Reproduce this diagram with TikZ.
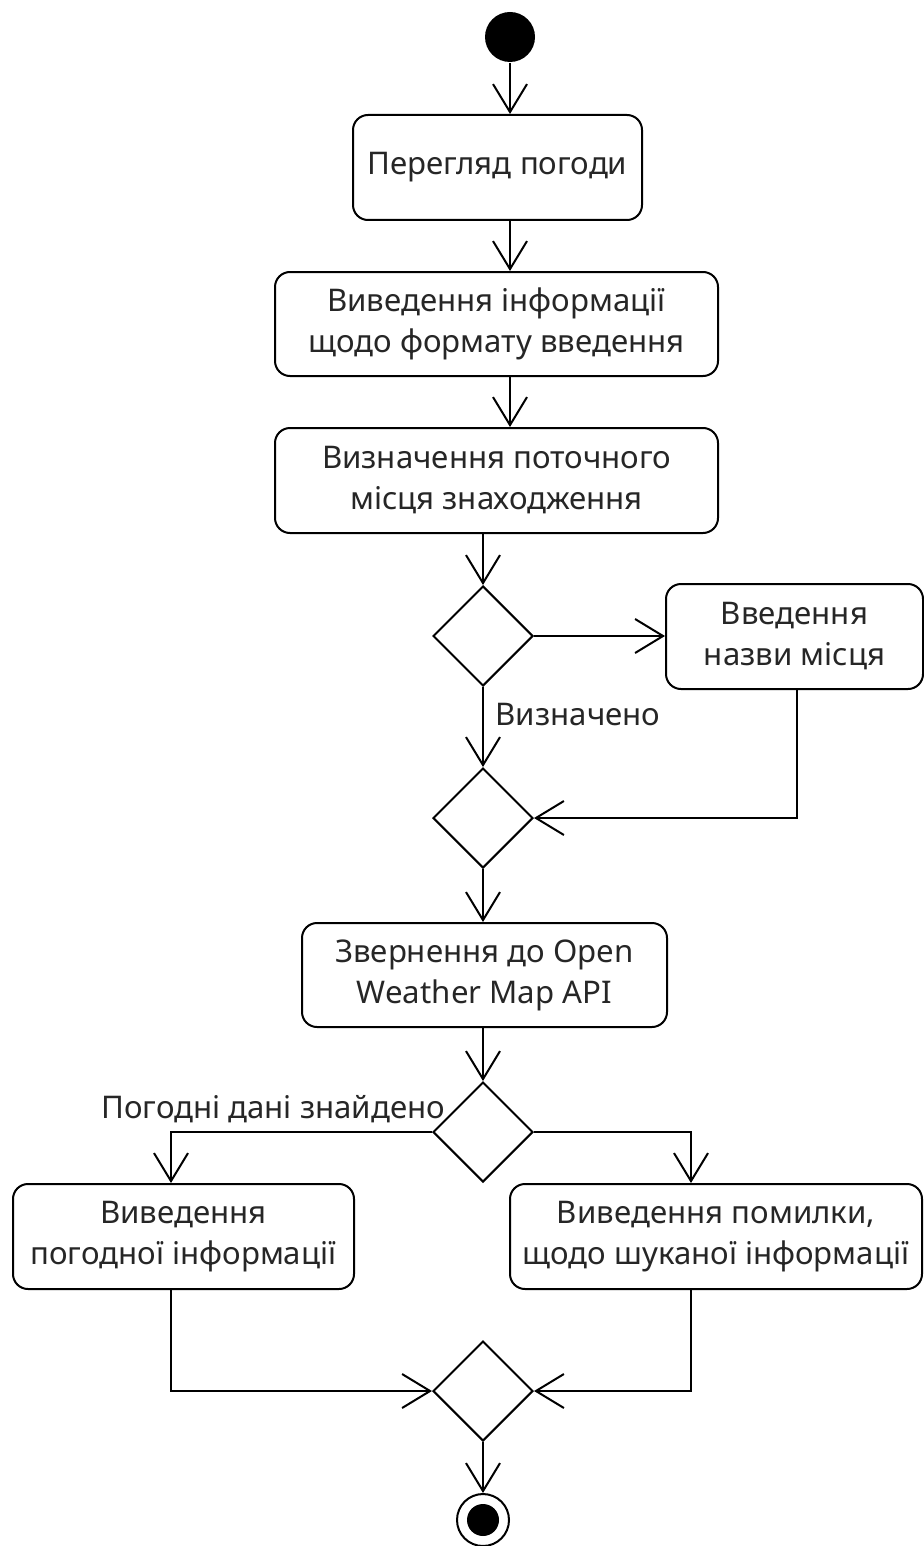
\documentclass[tikz,border=0pt]{standalone}
\usepackage{fontspec}
\setmainfont{Noto Sans}
\usetikzlibrary{arrows.meta,shapes.geometric}

\begin{document}
\begin{tikzpicture}[
  x=0.5pt, y=-0.5pt,
  line width=1pt,
  every node/.style={font=\fontsize{15.6}{20.5}\selectfont, text=black!85},
  action/.style={draw, rounded corners=7.5pt, align=center, inner sep=0pt},
  choice/.style={draw, diamond, minimum width=50pt, minimum height=50pt, inner sep=0pt, aspect=1},
  flow/.style={-{Straight Barb[length=14pt,width=17pt]}},
]
\useasboundingbox (0,0) rectangle (924,1546);

% initial and final states
\node[circle, fill=black, minimum size=25pt, inner sep=0pt] (start) at (510,37) {};
\node[circle, draw, minimum size=26pt, inner sep=0pt] (end) at (483,1520) {};
\node[circle, fill=black, minimum size=16pt, inner sep=0pt] (endcore) at (end) {};

% actions
\node[action, minimum width=144.5pt, minimum height=52.5pt] (b1) at (497.5,167.5) {Перегляд погоди};
\node[action, minimum width=221.5pt, minimum height=52pt] (b2) at (496.5,324) {Виведення інформації\\щодо формату введення};
\node[action, minimum width=221.5pt, minimum height=52.5pt] (b3) at (496.5,480.5) {Визначення поточного\\місця знаходження};
\node[action, minimum width=128.5pt, minimum height=52.5pt] (b4) at (794.5,636.5) {Введення\\назви місця};
\node[action, minimum width=182.5pt, minimum height=52pt] (b5) at (484.5,975) {Звернення до Open\\Weather Map API};
\node[action, minimum width=170.5pt, minimum height=52.5pt] (b6) at (183.5,1236.5) {Виведення\\погодної інформації};
\node[action, minimum width=206pt, minimum height=52.5pt] (b7) at (716,1236.5) {Виведення помилки,\\щодо шуканої інформації};

% decision and merge points
\node[choice] (d1) at (483,636) {};
\node[choice] (d2) at (483,818) {};
\node[choice] (d3) at (483,1132) {};
\node[choice] (d4) at (483,1391) {};

% columns used by the connectors
\coordinate (top) at (510,0);
\coordinate (left) at (171,0);
\coordinate (right) at (691,0);
\coordinate (back) at (797,0);

% guard labels
\node[anchor=west] (g1) at (488,715) {Визначено};
\node[anchor=east, inner sep=0pt] (g2) at (446,1109) {Погодні дані знайдено};

% connectors
\draw[flow] (start) -- (start |- b1.north);
\draw[flow] (b1.south -| top) -- (b2.north -| top);
\draw[flow] (b2.south -| top) -- (b3.north -| top);
\draw[flow] (b3.south -| d1) -- (d1.north);
\draw[flow] (d1.east) -- (b4.west |- d1.east);
\draw[flow] (d1.south) -- (d2.north);
\draw[flow] (b4.south -| back) |- (d2.east);
\draw[flow] (d2.south) -- (d2.south |- b5.north);
\draw[flow] (b5.south -| d3) -- (d3.north);
\draw[flow] (d3.west) -| (b6.north -| left);
\draw[flow] (d3.east) -| (b7.north -| right);
\draw[flow] (b6.south -| left) |- (d4.west);
\draw[flow] (b7.south -| right) |- (d4.east);
\draw[flow] (d4.south) -- (end.north);
\end{tikzpicture}
\end{document}
